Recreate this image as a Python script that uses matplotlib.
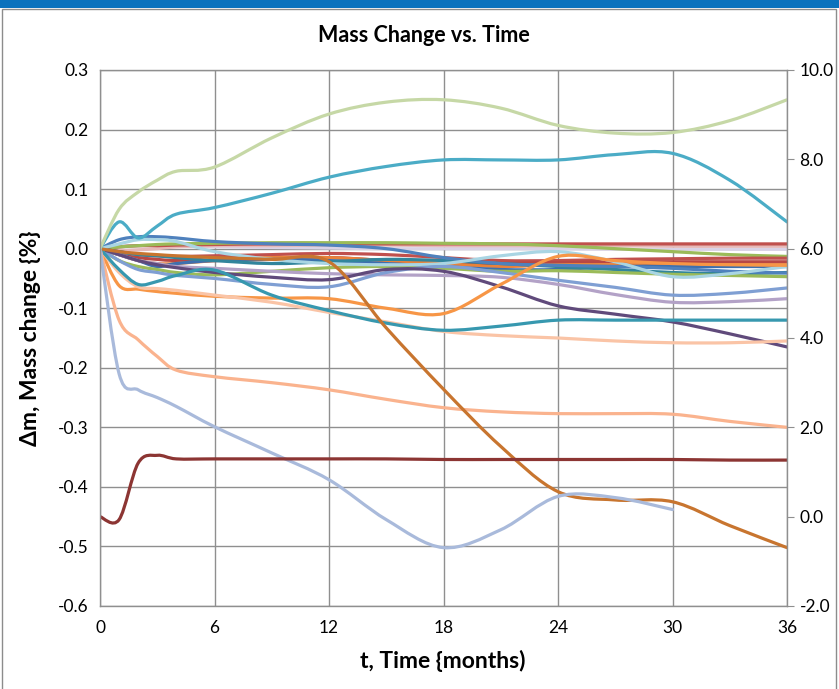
import matplotlib
matplotlib.use("Agg")
import matplotlib.pyplot as plt
from matplotlib.patches import Rectangle, PathPatch
from matplotlib.path import Path
import numpy as np

# ---- data ----
t = [0, 1, 2, 3, 4, 6, 9, 12, 15, 18, 21, 24, 27, 30, 33, 36]

light_green = [0, 0.066, 0.095, 0.115, 0.13, 0.137, 0.186, 0.226, 0.246, 0.25, 0.236, 0.207, 0.194, 0.195, 0.215, 0.25]
aqua = [0, 0.045, 0.018, 0.038, 0.058, 0.069, 0.093, 0.12, 0.138, 0.149, 0.149, 0.149, 0.158, 0.16, 0.115, 0.045]
dark_teal = [0, -0.035, -0.06, -0.055, -0.045, -0.036, -0.078, -0.104, -0.125, -0.137, -0.13, -0.12, -0.12, -0.12, -0.12, -0.12]
orange = [0, -0.062, -0.068, -0.072, -0.075, -0.08, -0.083, -0.084, -0.1, -0.109, -0.06, -0.013, -0.02, -0.025, -0.027, -0.028]
peach_light = [0, -0.04, -0.064, -0.067, -0.07, -0.078, -0.09, -0.107, -0.123, -0.139, -0.146, -0.15, -0.155, -0.158, -0.158, -0.155]
peach = [0, -0.12, -0.153, -0.181, -0.204, -0.215, -0.225, -0.237, -0.253, -0.267, -0.274, -0.277, -0.277, -0.278, -0.29, -0.30]
steel = [0, -0.21, -0.237, -0.25, -0.265, -0.299, -0.343, -0.388, -0.455, -0.502, -0.472, -0.416, -0.418, -0.438, None, None]
brown = [0, -0.005, -0.008, -0.01, -0.012, -0.015, -0.018, -0.022, -0.133, -0.236, -0.332, -0.408, -0.422, -0.425, -0.465, -0.502]
dark_red = [-0.45, -0.455, -0.36, -0.347, -0.353, -0.353, -0.353, -0.353, -0.353, -0.354, -0.354, -0.354, -0.354, -0.354, -0.355, -0.355]
dark_purple = [0, -0.01, -0.02, -0.027, -0.032, -0.04, -0.048, -0.052, -0.035, -0.038, -0.064, -0.096, -0.11, -0.123, -0.143, -0.165]
periwinkle = [0, -0.02, -0.035, -0.04, -0.045, -0.05, -0.06, -0.064, -0.04, -0.03, -0.04, -0.053, -0.065, -0.078, -0.075, -0.066]
lavender = [0, -0.01, -0.02, -0.025, -0.03, -0.033, -0.038, -0.042, -0.044, -0.045, -0.048, -0.06, -0.077, -0.09, -0.089, -0.084]
red_a = [0, 0.003, 0.005, 0.005, 0.006, 0.007, 0.008, 0.008, 0.008, 0.008, 0.008, 0.008, 0.008, 0.008, 0.008, 0.008]
rose = [0, -0.003, -0.002, 0, 0.003, 0.005, 0.005, 0.006, 0.006, 0.005, 0.005, 0.005, 0.005, 0.004, 0.004, 0.004]
pale_lilac = [0, 0.004, 0.005, 0.005, 0.004, 0.003, 0.002, 0.001, 0.0, 0.0, 0.0, 0.0, -0.001, -0.001, -0.001, -0.001]
green_a = [0, 0.003, 0.005, 0.007, 0.008, 0.009, 0.01, 0.01, 0.01, 0.009, 0.008, 0.005, 0.0, -0.005, -0.01, -0.013]
red_b = [0, -0.005, -0.01, -0.012, -0.013, -0.012, -0.01, -0.008, -0.01, -0.015, -0.02, -0.02, -0.018, -0.017, -0.016, -0.016]
red_c = [0, -0.01, -0.015, -0.018, -0.02, -0.02, -0.018, -0.015, -0.02, -0.025, -0.025, -0.023, -0.022, -0.022, -0.022, -0.022]
orange_b = [0, -0.01, -0.02, -0.025, -0.025, -0.02, -0.015, -0.015, -0.02, -0.025, -0.03, -0.027, -0.027, -0.027, -0.027, -0.027]
blue_a = [0, 0.015, 0.02, 0.02, 0.018, 0.012, 0.008, 0.006, 0.0, -0.015, -0.025, -0.028, -0.03, -0.033, -0.038, -0.041]
blue_b = [0, -0.01, -0.02, -0.03, -0.025, -0.02, -0.018, -0.02, -0.025, -0.03, -0.035, -0.035, -0.03, -0.03, -0.03, -0.03]
teal_b = [0, -0.005, -0.01, -0.012, -0.015, -0.02, -0.025, -0.022, -0.018, -0.02, -0.025, -0.03, -0.035, -0.04, -0.042, -0.04]
green_b = [0, -0.02, -0.03, -0.035, -0.04, -0.044, -0.038, -0.032, -0.03, -0.033, -0.038, -0.037, -0.04, -0.043, -0.045, -0.047]
light_aqua = [0, 0.008, 0.015, 0.015, 0.012, -0.005, -0.018, -0.025, -0.027, -0.025, -0.012, -0.005, -0.022, -0.047, -0.042, -0.03]

series = [
    (pale_lilac, "#D9D2E6"), (rose, "#E6B9B8"), (red_a, "#C0504D"), (green_a, "#9BBB59"),
    (red_b, "#C0504D"), (red_c, "#B84744"), (orange_b, "#E8823A"), (blue_b, "#3E6FAE"),
    (teal_b, "#31859C"), (blue_a, "#4F81BD"), (green_b, "#9BBB59"), (light_aqua, "#A9D5E3"),
    (lavender, "#B3A2C7"), (periwinkle, "#7F9FD3"), (dark_purple, "#604A7B"),
    (orange, "#F79646"), (peach_light, "#FAC4A6"), (dark_teal, "#3798AF"),
    (peach, "#FAB38E"), (brown, "#C8752F"), (steel, "#A9BADB"), (dark_red, "#8C3533"),
    (aqua, "#4BACC6"), (light_green, "#C6D8A6"),
]

right_ticks = [-2.0, 0.0, 2.0, 4.0, 6.0, 8.0, 10.0]
left_ticks = [-0.6, -0.5, -0.4, -0.3, -0.2, -0.1, 0.0, 0.1, 0.2, 0.3]
x_ticks = [0, 6, 12, 18, 24, 30, 36]


def smooth_path(xs, ys):
    """Excel-style smoothed line: cubic Bezier through the data points."""
    pts = [(x, y) for x, y in zip(xs, ys) if y is not None]
    P = np.array(pts, dtype=float)
    n = len(P)
    verts = [P[0]]
    codes = [Path.MOVETO]
    for i in range(n - 1):
        p0 = P[i - 1] if i > 0 else P[i]
        p1 = P[i]
        p2 = P[i + 1]
        p3 = P[i + 2] if i + 2 < n else P[i + 1]
        c1 = p1 + (p2 - p0) / 6.0
        c2 = p2 - (p3 - p1) / 6.0
        verts += [c1, c2, p2]
        codes += [Path.CURVE4] * 3
    return Path(np.array(verts), codes)


plt.rcParams['font.family'] = ['Lato', 'DejaVu Sans']

W, H = 839, 689
fig = plt.figure(figsize=(W / 100, H / 100), dpi=100)

# top blue bar and chart frame
fig.patches.append(Rectangle((0, 1 - 8 / H), 1, 8 / H, transform=fig.transFigure,
                             facecolor="#0B72BD", edgecolor="none", zorder=0))
fig.patches.append(Rectangle((2 / W, -0.01), (834 / W), 1 - 9 / H + 0.01, transform=fig.transFigure,
                             facecolor="none", edgecolor="#8C8C8C", linewidth=1.0, zorder=0))

ax = fig.add_axes([100 / W, 1 - 606 / H, 687 / W, 536 / H])
for ys, c in series:
    path = smooth_path(t, ys)
    ax.add_patch(PathPatch(path, facecolor="none", edgecolor=c, lw=2.3,
                           capstyle="round", joinstyle="round"))

ax.set_xlim(0, 36)
ax.set_ylim(-0.6, 0.3)
ax.set_xticks(x_ticks)
ax.set_yticks(left_ticks)
ax.set_yticklabels([f"{v:.1f}" for v in left_ticks])
ax.grid(True, color="#8F8F8F", linewidth=1.0)
ax.set_axisbelow(True)
ax.tick_params(axis="both", length=0, labelsize=12.5, pad=8)
ax.tick_params(axis="x", pad=10)
for s in ax.spines.values():
    s.set_color("#8F8F8F")
    s.set_linewidth(1.0)

ax2 = ax.twinx()
ax2.set_ylim(-2.0, 10.0)
ax2.set_yticks(right_ticks)
ax2.set_yticklabels([f"{v:.1f}" for v in right_ticks])
ax2.tick_params(axis="y", length=5, color="#8F8F8F", labelsize=12.5, pad=4)
for s in ax2.spines.values():
    s.set_visible(False)

fig.text(424 / W, 1 - 35 / H, "Mass Change vs. Time", ha="center", va="center",
         fontsize=15.5, fontweight="bold")
fig.text(443 / W, 1 - 661 / H, "t, Time {months)", ha="center", va="center",
         fontsize=16.5, fontweight="bold")
fig.text(31 / W, 1 - 338 / H, "Δm, Mass change {%}", ha="center", va="center",
         rotation=90, fontsize=16.5, fontweight="bold")

fig.savefig("out.png", dpi=100)
